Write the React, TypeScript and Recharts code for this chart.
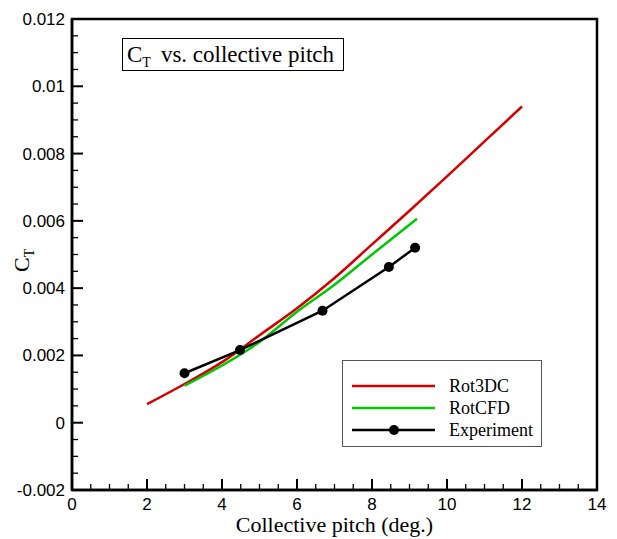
import React from 'react';
import { LineChart, Line, XAxis, YAxis, ReferenceArea } from 'recharts';

// collective pitch (deg) / thrust coefficient
const pitchRot3DC = [2, 3, 4, 5, 6, 7, 8, 9, 10, 11, 12];
const ctRot3DC = [0.00055, 0.00115, 0.0018, 0.0026, 0.0034, 0.0043, 0.0053, 0.0063, 0.00732, 0.00836, 0.0094];

const pitchRotCFD = [3, 4, 5, 6, 7, 8, 9.2];
const ctRotCFD = [0.0011, 0.0017, 0.0024, 0.0033, 0.0041, 0.005, 0.00606];

const pitchExp = [3, 4.48, 6.68, 8.45, 9.15];
const ctExp = [0.00147, 0.00216, 0.00333, 0.00463, 0.0052];

const xTicks = Array.from({ length: 29 }, (_, i) => i * 0.5);
const yTicks = Array.from({ length: 29 }, (_, i) => -0.002 + i * 0.0005);

const SERIES = [
  { name: 'Rot3DC', color: '#d40000', dot: false, curve: 'monotone' },
  { name: 'RotCFD', color: '#00c800', dot: false, curve: 'monotone' },
  { name: 'Experiment', color: '#000000', dot: true, curve: 'linear' },
];

const toRows = (xs: number[], ys: number[]) => xs.map((x, i) => ({ x, y: ys[i] }));

const SANS = '"Liberation Sans", Arial, sans-serif';
const SERIF = '"Liberation Serif", "Times New Roman", serif';

const XTick = (props: any) => {
  const { x, y, payload } = props;
  const v = Math.round(payload.value * 2) / 2;
  const major = v % 2 === 0;
  return (
    <g>
      <line x1={x} x2={x} y1={y} y2={y - (major ? 11 : 6)} stroke="#000" strokeWidth={major ? 2 : 1.3} />
      {major && (
        <text x={x} y={y + 20} textAnchor="middle" fontFamily={SANS} fontSize={17} fill="#000">
          {v}
        </text>
      )}
    </g>
  );
};

const YTick = (props: any) => {
  const { x, y, payload } = props;
  const v = Math.round(payload.value * 10000) / 10000;
  const major = Math.abs(Math.round(v * 500) - v * 500) < 1e-6;
  return (
    <g>
      <line x1={x} x2={x + (major ? 11 : 6)} y1={y} y2={y} stroke="#000" strokeWidth={major ? 2 : 1.3} />
      {major && (
        <text x={x - 7} y={y + 6} textAnchor="end" fontFamily={SANS} fontSize={17} fill="#000">
          {v}
        </text>
      )}
    </g>
  );
};

export default function App() {
  const data = [toRows(pitchRot3DC, ctRot3DC), toRows(pitchRotCFD, ctRotCFD), toRows(pitchExp, ctExp)];

  return (
    <div style={{ position: 'absolute', left: 0, top: 0, width: 617, height: 539, background: '#fff' }}>
      <LineChart width={617} height={539} margin={{ top: 19, right: 20, left: 0, bottom: 0 }}>
        <XAxis
          dataKey="x"
          type="number"
          domain={[0, 14]}
          ticks={xTicks}
          interval={0}
          allowDuplicatedCategory={false}
          height={49}
          tickSize={0}
          tickMargin={0}
          tick={<XTick />}
          axisLine={{ stroke: '#000', strokeWidth: 2.5 }}
          label={{ value: 'Collective pitch (deg.)', position: 'insideBottom', offset: 7, fontFamily: SERIF, fontSize: 22, fill: '#000' }}
        />
        <YAxis
          dataKey="y"
          type="number"
          domain={[-0.002, 0.012]}
          ticks={yTicks}
          interval={0}
          width={72}
          tickSize={0}
          tickMargin={0}
          tick={<YTick />}
          axisLine={{ stroke: '#000', strokeWidth: 2.5 }}
        />
        <ReferenceArea x1={0} x2={14} y1={-0.002} y2={0.012} fill="none" stroke="#000" strokeWidth={2.5} />
        {SERIES.map((s, i) => (
          <Line
            key={s.name}
            data={data[i]}
            dataKey="y"
            name={s.name}
            type={s.curve as any}
            stroke={s.color}
            strokeWidth={2.5}
            dot={s.dot ? { r: 5, fill: '#000', stroke: '#000', strokeWidth: 0 } : false}
            activeDot={false}
            isAnimationActive={false}
          />
        ))}
      </LineChart>

      {/* y axis title */}
      <div
        style={{
          position: 'absolute', left: 5, top: 243, width: 34, height: 24,
          transform: 'rotate(-90deg)', fontFamily: SERIF, fontSize: 22, lineHeight: '24px', color: '#000', whiteSpace: 'nowrap',
        }}
      >
        C<span style={{ fontSize: 14, position: 'relative', top: 5 }}>T</span>
      </div>

      {/* title box */}
      <div
        style={{
          position: 'absolute', left: 122, top: 38, width: 216, height: 31, border: '1px solid #000',
          fontFamily: SERIF, fontSize: 23, color: '#000', lineHeight: '31px', paddingLeft: 4, boxSizing: 'content-box', whiteSpace: 'nowrap',
        }}
      >
        C<span style={{ fontSize: 14, position: 'relative', top: 5 }}>T</span>
        <span style={{ marginLeft: 10 }}>vs. collective pitch</span>
      </div>

      {/* legend */}
      <div
        style={{
          position: 'absolute', left: 342, top: 360, width: 198, height: 85, border: '1.5px solid #555',
          background: '#fff', fontFamily: SERIF, fontSize: 18, color: '#000',
        }}
      >
        {SERIES.map((s, i) => (
          <div key={s.name} style={{ position: 'absolute', left: 9, top: 14 + i * 22, height: 22, display: 'flex', alignItems: 'center' }}>
            <svg width={84} height={12}>
              <line x1={0} x2={83} y1={6} y2={6} stroke={s.color} strokeWidth={2.5} />
              {s.dot && <circle cx={42} cy={6} r={5} fill="#000" />}
            </svg>
            <span style={{ marginLeft: 13 }}>{s.name}</span>
          </div>
        ))}
      </div>
    </div>
  );
}
